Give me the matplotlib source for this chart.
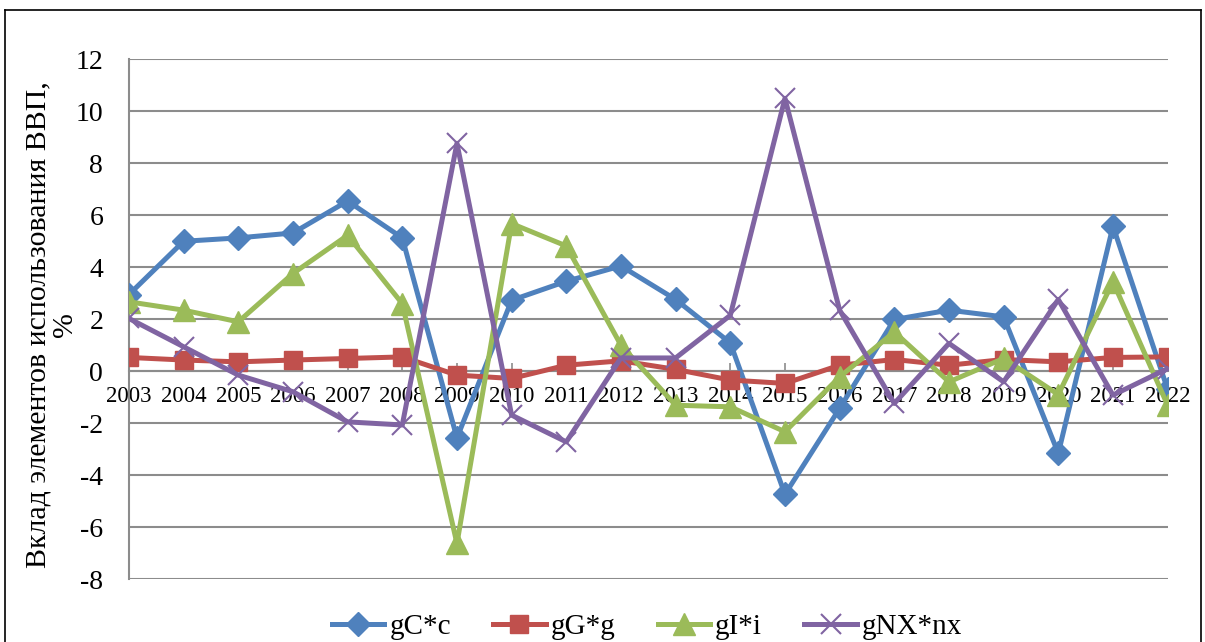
import matplotlib.pyplot as plt
from matplotlib.lines import Line2D

years = list(range(2003, 2023))
gC = [2.95, 5.0, 5.13, 5.32, 6.55, 5.13, -2.57, 2.73, 3.46, 4.05,
      2.76, 1.09, -4.74, -1.43, 1.99, 2.35, 2.09, -3.16, 5.58, -0.7]
gG = [0.53, 0.43, 0.36, 0.43, 0.49, 0.55, -0.15, -0.28, 0.23, 0.4,
      0.07, -0.34, -0.47, 0.23, 0.45, 0.23, 0.45, 0.36, 0.53, 0.55]
gI = [2.67, 2.35, 1.9, 3.76, 5.23, 2.6, -6.63, 5.68, 4.82, 1.0,
      -1.31, -1.37, -2.33, -0.22, 1.51, -0.41, 0.49, -0.9, 3.44, -1.31]
gNX = [2.03, 0.94, -0.15, -0.79, -1.95, -2.07, 8.77, -1.69, -2.72, 0.51,
       0.51, 2.15, 10.5, 2.35, -1.24, 1.07, -0.41, 2.76, -0.92, 0.1]
labels = ["gC*c", "gG*g", "gI*i", "gNX*nx"]

plt.rcParams['font.family'] = ['Liberation Serif', 'DejaVu Serif']
plt.rcParams['axes.unicode_minus'] = False

fig = plt.figure(figsize=(12.05, 6.42), dpi=100)
ax = fig.add_axes([0.107, 0.098, 0.862, 0.8095])

# four series
ax.plot(years, gC, color='#4F81BD', lw=3.6, marker='D', ms=12.5, zorder=3, label=labels[0])
ax.plot(years, gG, color='#C0504D', lw=3.6, marker='s', ms=13.5, zorder=3, label=labels[1])
ax.plot(years, gI, color='#9BBB59', lw=3.6, marker='^', ms=15.5, zorder=3, label=labels[2])
ax.plot(years, gNX, color='#8064A2', lw=3.6, marker='x', ms=14, mew=1.5, zorder=3, label=labels[3])

ax.set_xlim(2003, 2022)
ax.set_ylim(-8, 12)
ax.set_yticks(range(-8, 13, 2))
ax.set_xticks(years)
ax.set_xticklabels([str(y) for y in years])
ax.yaxis.grid(True, color='#8c8c8c', lw=1.5)
ax.set_axisbelow(True)

for s in ['top', 'right']:
    ax.spines[s].set_visible(False)
ax.spines['left'].set_color('#8c8c8c')
ax.spines['left'].set_linewidth(1.5)
ax.spines['bottom'].set_position(('data', 0))
ax.spines['bottom'].set_color('#8c8c8c')
ax.spines['bottom'].set_linewidth(1.5)

ax.tick_params(axis='y', length=0, pad=18.5, labelsize=20)
ax.tick_params(axis='x', direction='in', length=6, color='#8c8c8c', width=1.2, pad=11, labelsize=16.5)

fig.text(0.043, 0.494, "Вклад элементов использования ВВП,\n%", rotation=90,
         ha='center', va='center', multialignment='center', fontsize=21.5, linespacing=1.05)

handles, lbls = ax.get_legend_handles_labels()
fig.legend(handles, lbls, loc='center', bbox_to_anchor=(0.537, 0.023), ncol=4, frameon=False,
           fontsize=21, handlelength=1.8, handletextpad=0.17, columnspacing=1.45)

# outer frame (left, top, right)
for xy in [([0.004, 0.004], [-0.01, 0.984]), ([0.004, 0.997], [0.984, 0.984]),
           ([0.997, 0.997], [0.984, -0.01])]:
    fig.add_artist(Line2D(xy[0], xy[1], color='black', lw=1.2, transform=fig.transFigure))

fig.savefig('out.png', dpi=100)
